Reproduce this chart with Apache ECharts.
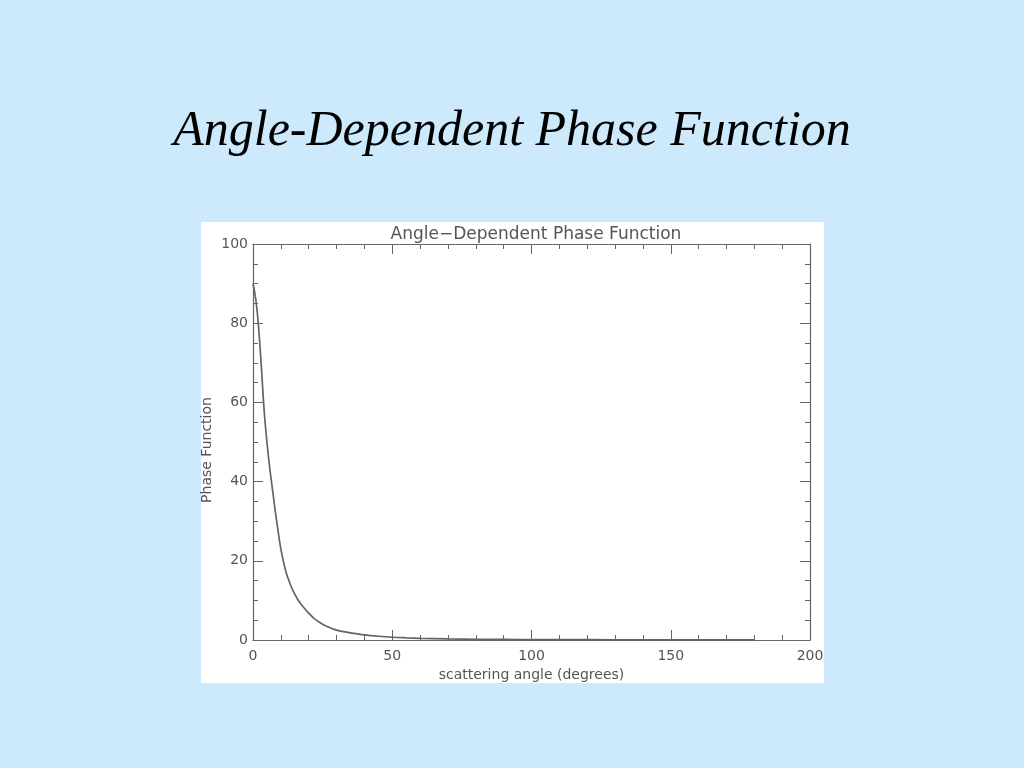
<!DOCTYPE html>
<html>
<head>
<meta charset="utf-8">
<script src="https://cdn.jsdelivr.net/npm/echarts@6/dist/echarts.min.js"></script>
<style>
html,body{margin:0;padding:0;background:#cceafb;}
#c{width:1024px;height:768px;}
</style>
</head>
<body>
<div id="c"></div>
<script>
var pageTitle = 'Angle-Dependent Phase Function';
var plotTitle = 'Angle\u2212Dependent Phase Function';
var xName = 'scattering angle (degrees)';
var yName = 'Phase Function';
var angles = [0,1,2,3,4,5,6,7,8,9,10,11,12,13,14,15,16,17,18,20,22,24,26,28,30,32.5,35,40,45,50,55,60,70,80,90,100,120,140,160,180];
var phase  = [90,86,79,69,58,50,43.5,38,32.5,27.5,23,19.6,16.8,14.8,13,11.6,10.3,9.3,8.4,6.8,5.4,4.4,3.6,3.0,2.5,2.1,1.8,1.3,0.95,0.7,0.55,0.43,0.28,0.19,0.14,0.11,0.07,0.055,0.045,0.04];

var pts = angles.map(function(a,i){return [a, phase[i]];});
var gray = '#666';
var txt = '#555';
var font = 'DejaVu Sans';

var chart = echarts.init(document.getElementById('c'));
function ax(extra, split){
  return Object.assign({
    type:'value',
    axisLine:{show:true,onZero:false,lineStyle:{color:gray,width:1.2}},
    axisTick:{show:true,inside:true,length:10,lineStyle:{color:gray}},
    minorTick:{show:true,splitNumber:split,length:5,lineStyle:{color:gray}},
    splitLine:{show:false},
    minorSplitLine:{show:false}
  }, extra);
}
chart.setOption({
  backgroundColor:'#cceafb',
  animation:false,
  title:[
    {text:pageTitle,left:'center',top:102,textStyle:{fontFamily:'Liberation Serif',fontStyle:'italic',fontWeight:'normal',fontSize:50,color:'#000'}},
    {text:plotTitle,left:531,textAlign:'center',top:221,textStyle:{fontFamily:font,fontWeight:'normal',fontSize:17,color:txt}}
  ],
  graphic:[
    {type:'rect',z:-100,shape:{x:201,y:222,width:623,height:461},style:{fill:'#ffffff'}},
    {type:'text',x:207,y:450,rotation:Math.PI/2,style:{text:yName,fill:txt,font:'14px "DejaVu Sans"',textAlign:'center',textVerticalAlign:'middle'}}
  ],
  grid:{left:253,right:214,top:244,bottom:128},
  xAxis:[
    ax({min:0,max:200,interval:50,position:'bottom',
      axisLabel:{color:txt,fontFamily:font,fontSize:14,margin:9},
      name:xName,nameLocation:'middle',nameGap:27,nameTextStyle:{color:txt,fontFamily:font,fontSize:14}},5),
    ax({min:0,max:200,interval:50,position:'top',axisLabel:{show:false}},5)
  ],
  yAxis:[
    ax({min:0,max:100,interval:20,position:'left',
      axisLabel:{color:txt,fontFamily:font,fontSize:14,margin:5}},4),
    ax({min:0,max:100,interval:20,position:'right',axisLabel:{show:false}},4)
  ],
  series:[{type:'line',data:pts,smooth:0.35,showSymbol:false,xAxisIndex:0,yAxisIndex:0,lineStyle:{color:'#646464',width:1.7}}]
});
</script>
</body>
</html>
